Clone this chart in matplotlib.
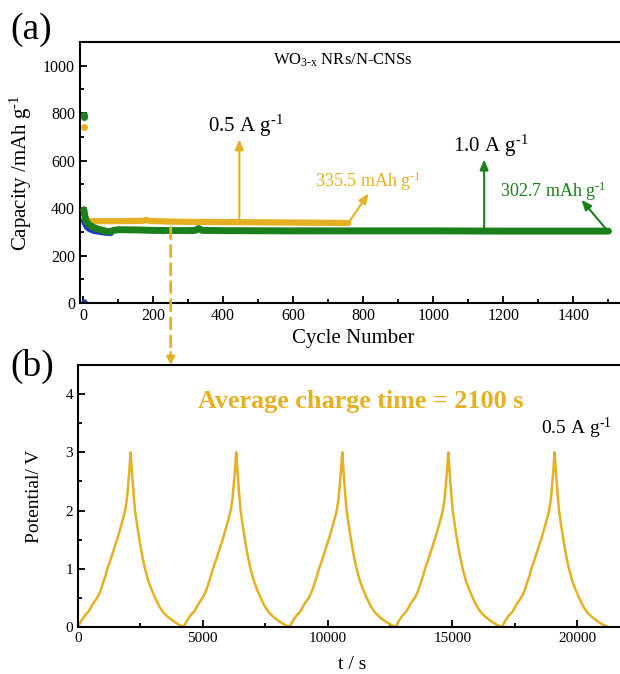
import matplotlib
matplotlib.use("Agg")
import matplotlib.pyplot as plt
from matplotlib.patches import ConnectionPatch
from matplotlib.transforms import blended_transform_factory
from matplotlib.ticker import MultipleLocator

plt.rcParams['font.family'] = ['Liberation Serif', 'DejaVu Serif']
plt.rcParams['mathtext.fontset'] = 'custom'
plt.rcParams['mathtext.rm'] = 'Liberation Serif'
plt.rcParams['mathtext.it'] = 'Liberation Serif'

YEL = '#E5B122'
GRN = '#1B7F1B'
BLU = '#2036C8'

# ---------------- panel (a) data: cycling ----------------
yel_cycles = [2, 4, 7, 10, 15, 20, 40, 100, 170, 180, 190, 250, 300, 400, 500, 600, 700, 757]
yel_cap = [395, 375, 360, 352, 347, 344, 345, 345, 346, 350, 346, 343, 342, 341, 340, 339, 338, 337]
yel_first = (1, 741)

grn_cycles = [2, 4, 7, 10, 15, 20, 30, 50, 70, 78, 85, 100, 150, 200, 300, 320, 330, 340, 400, 600, 800, 1000, 1200, 1400, 1500]
grn_cap = [392, 372, 352, 342, 333, 327, 318, 308, 301, 300, 305, 309, 308, 306, 305, 306, 314, 306, 305, 304, 304, 304, 303, 303, 303]
grn_first = [(1, 783), (1, 792)]

blu_cycles = [1, 3, 6, 10, 15, 20, 30, 50, 70, 80]
blu_cap = [348, 340, 330, 320, 313, 309, 303, 298, 294, 294]
blu_first = (1, 3)

# ---------------- panel (b) data: GCD curves (5 cycles) ----------------
t1 = [0, 60, 150, 280, 415, 500, 600, 700, 790, 900, 1000, 1100, 1177, 1300, 1450, 1580, 1700, 1800, 1888, 1960, 2022, 2070, 2110,
      2140, 2190, 2235, 2285, 2370, 2460, 2560, 2685, 2810, 2940, 3090, 3260, 3420, 3610, 3820, 4010, 4230]
t2 = [4230, 4290, 4380, 4510, 4645, 4730, 4830, 4930, 5020, 5130, 5230, 5330, 5407, 5530, 5680, 5810, 5930, 6030, 6118, 6190, 6252, 6300, 6340,
      6370, 6420, 6465, 6515, 6600, 6690, 6790, 6915, 7040, 7170, 7320, 7490, 7650, 7840, 8050, 8240, 8480]
t3 = [8480, 8540, 8630, 8760, 8895, 8980, 9080, 9180, 9270, 9380, 9480, 9580, 9657, 9780, 9930, 10060, 10180, 10280, 10368, 10440, 10502, 10550, 10590,
      10620, 10670, 10715, 10765, 10850, 10940, 11040, 11165, 11290, 11420, 11570, 11740, 11900, 12090, 12300, 12490, 12730]
t4 = [12730, 12790, 12880, 13010, 13145, 13230, 13330, 13430, 13520, 13630, 13730, 13830, 13907, 14030, 14180, 14310, 14430, 14530, 14618, 14690, 14752, 14800, 14840,
      14870, 14920, 14965, 15015, 15100, 15190, 15290, 15415, 15540, 15670, 15820, 15990, 16150, 16340, 16550, 16740, 16990]
t5 = [16990, 17050, 17140, 17270, 17405, 17490, 17590, 17690, 17780, 17890, 17990, 18090, 18167, 18290, 18440, 18570, 18690, 18790, 18878, 18950, 19012, 19060, 19100,
      19130, 19180, 19225, 19275, 19360, 19450, 19550, 19675, 19800, 19930, 20080, 20250, 20410, 20600, 20810, 21000, 21230]
v1 = [0, 0.05, 0.12, 0.20, 0.26, 0.32, 0.40, 0.46, 0.52, 0.62, 0.75, 0.88, 1.00, 1.15, 1.35, 1.52, 1.70, 1.85, 2.00, 2.20, 2.50, 2.75, 3.00,
      2.80, 2.50, 2.25, 2.00, 1.75, 1.50, 1.25, 1.00, 0.80, 0.65, 0.50, 0.35, 0.25, 0.17, 0.10, 0.05, 0]
v2 = [0, 0.05, 0.12, 0.20, 0.26, 0.32, 0.40, 0.46, 0.52, 0.62, 0.75, 0.88, 1.00, 1.15, 1.35, 1.52, 1.70, 1.85, 2.00, 2.20, 2.50, 2.75, 3.00,
      2.80, 2.50, 2.25, 2.00, 1.75, 1.50, 1.25, 1.00, 0.80, 0.65, 0.50, 0.35, 0.25, 0.17, 0.10, 0.05, 0]
v3 = [0, 0.05, 0.12, 0.20, 0.26, 0.32, 0.40, 0.46, 0.52, 0.62, 0.75, 0.88, 1.00, 1.15, 1.35, 1.52, 1.70, 1.85, 2.00, 2.20, 2.50, 2.75, 3.00,
      2.80, 2.50, 2.25, 2.00, 1.75, 1.50, 1.25, 1.00, 0.80, 0.65, 0.50, 0.35, 0.25, 0.17, 0.10, 0.05, 0]
v4 = [0, 0.05, 0.12, 0.20, 0.26, 0.32, 0.40, 0.46, 0.52, 0.62, 0.75, 0.88, 1.00, 1.15, 1.35, 1.52, 1.70, 1.85, 2.00, 2.20, 2.50, 2.75, 3.00,
      2.80, 2.50, 2.25, 2.00, 1.75, 1.50, 1.25, 1.00, 0.80, 0.65, 0.50, 0.35, 0.25, 0.17, 0.10, 0.05, 0]
v5 = [0, 0.05, 0.12, 0.20, 0.26, 0.32, 0.40, 0.46, 0.52, 0.62, 0.75, 0.88, 1.00, 1.15, 1.35, 1.52, 1.70, 1.85, 2.00, 2.20, 2.50, 2.75, 3.00,
      2.80, 2.50, 2.25, 2.00, 1.75, 1.50, 1.25, 1.00, 0.80, 0.65, 0.50, 0.35, 0.25, 0.17, 0.10, 0.05, 0]

W, H = 620, 674
fig = plt.figure(figsize=(W / 100, H / 100), dpi=100)

def frac(l, t, r, b):
    return [l / W, 1 - b / H, (r - l) / W, (b - t) / H]

ax1 = fig.add_axes(frac(80, 42, 627, 303))
ax2 = fig.add_axes(frac(78, 365, 627, 627))

for ax in (ax1, ax2):
    for s in ax.spines.values():
        s.set_linewidth(1.5)
    ax.tick_params(which='both', direction='in', top=False, right=False, labelsize=11.5, width=1.3)
    ax.tick_params(which='major', length=5)
    ax.tick_params(which='minor', length=3)

SUP = r'$^{\text{-1}}$'

# panel (a)
ax1.plot(blu_cycles, blu_cap, color=BLU, lw=4, solid_capstyle='round', zorder=2)
ax1.plot(*blu_first, 'o', color=BLU, ms=3.5, zorder=2)
ax1.plot(yel_cycles, yel_cap, color=YEL, lw=4.5, solid_capstyle='round', zorder=3)
ax1.plot(*yel_first, 'o', color=YEL, ms=4, zorder=3)
ax1.plot(grn_cycles, grn_cap, color=GRN, lw=5, solid_capstyle='round', zorder=4)
for p in grn_first:
    ax1.plot(*p, 'o', color=GRN, ms=4, zorder=4)

ax1.set_xlim(-9, 1553)
ax1.set_ylim(0, 1100)
ax1.xaxis.set_major_locator(MultipleLocator(200))
ax1.xaxis.set_minor_locator(MultipleLocator(100))
ax1.yaxis.set_major_locator(MultipleLocator(200))
ax1.yaxis.set_minor_locator(MultipleLocator(100))
ax1.set_yticks([0, 200, 400, 600, 800, 1000])
ax1.set_xlabel('Cycle Number', fontsize=15, labelpad=4)
ax1.set_ylabel('Capacity /mAh g' + SUP, fontsize=15)
ax1.yaxis.set_label_coords(-0.085, 0.5)

ax1.text(741, 1005, r'WO$_{\text{3-x}}$ NRs/N-CNSs', fontsize=12, ha='center', va='baseline')
ax1.text(357, 721, '0.5 A g' + SUP, fontsize=15, ha='left', va='baseline')
ax1.text(1057, 637, '1.0 A g' + SUP, fontsize=15, ha='left', va='baseline')
ax1.text(663, 490, '335.5 mAh g' + SUP, fontsize=13, ha='left', va='baseline', color=YEL)
ax1.text(1191, 447, '302.7 mAh g' + SUP, fontsize=13, ha='left', va='baseline', color=GRN)

arr = dict(arrowstyle='-|>,head_length=0.6,head_width=0.25', lw=1.5, shrinkA=0, shrinkB=0)
ax1.annotate('', xy=(446, 690), xytext=(446, 345), arrowprops=dict(color=YEL, **arr))
ax1.annotate('', xy=(1145, 605), xytext=(1145, 307), arrowprops=dict(color=GRN, **arr))
ax1.annotate('', xy=(815, 462), xytext=(758, 339), arrowprops=dict(color=YEL, **arr))
ax1.annotate('', xy=(1423, 435), xytext=(1497, 305), arrowprops=dict(color=GRN, **arr))

# dashed link between panels
trB = blended_transform_factory(ax1.transData, ax2.transAxes)
con = ConnectionPatch(xyA=(250, 318), coordsA=ax1.transData,
                      xyB=(250, 1.035), coordsB=trB,
                      color=YEL, lw=2, linestyle=(0, (4, 2.5)))
fig.add_artist(con)
con2 = ConnectionPatch(xyA=(250, 1.05), coordsA=trB,
                       xyB=(250, 1.0), coordsB=trB,
                       arrowstyle='-|>,head_length=0.5,head_width=0.25',
                       color=YEL, lw=1.5, shrinkA=0, shrinkB=0)
fig.add_artist(con2)

# panel (b)
for tt, vv in zip([t1, t2, t3, t4, t5], [v1, v2, v3, v4, v5]):
    ax2.plot(tt, vv, color=YEL, lw=1.8, solid_joinstyle='round')
ax2.set_xlim(0, 22000)
ax2.set_ylim(0, 4.5)
ax2.xaxis.set_major_locator(MultipleLocator(5000))
ax2.xaxis.set_minor_locator(MultipleLocator(2500))
ax2.yaxis.set_major_locator(MultipleLocator(1))
ax2.yaxis.set_minor_locator(MultipleLocator(0.5))
ax2.set_yticks([0, 1, 2, 3, 4])
ax2.tick_params(labelsize=11)
ax2.set_xlabel('t / s', fontsize=14, labelpad=8)
ax2.set_ylabel('Potential/ V', fontsize=14)
ax2.yaxis.set_label_coords(-0.064, 0.5)

ax2.text(0.515, 0.859, 'Average charge time = 2100 s', transform=ax2.transAxes,
         fontsize=18.8, fontweight='bold', color=YEL, ha='center', va='center')
ax2.text(18554, 3.31, '0.5 A g' + SUP, fontsize=14, ha='left', va='baseline')

fig.text(10 / W, 1 - 30 / H, '(a)', fontsize=27, va='center', ha='left')
fig.text(10 / W, 1 - 366 / H, '(b)', fontsize=27, va='center', ha='left')

fig.savefig('out.png', dpi=100)
